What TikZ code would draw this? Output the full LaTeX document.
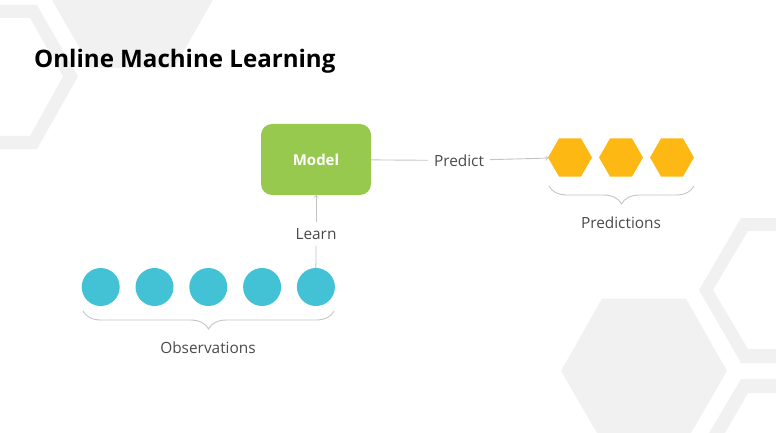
\documentclass[tikz,border=0pt]{standalone}
\usepackage{xcolor}
\usepackage{fontspec}
\setmainfont{Open Sans}
\usetikzlibrary{positioning}
\usetikzlibrary{shapes.geometric}
\usetikzlibrary{decorations.pathreplacing}

\definecolor{backgray}{HTML}{F1F1F1}
\definecolor{modelgreen}{HTML}{97C94E}
\definecolor{obsblue}{HTML}{43C2D5}
\definecolor{predyellow}{HTML}{FDB813}
\definecolor{edgegray}{HTML}{C4C4C4}
\definecolor{labelgray}{HTML}{4A4A4A}

\tikzset{
  back/.style={fill=backgray, draw=none},
  model/.style={fill=modelgreen, rounded corners=11pt, minimum width=110pt, minimum height=71pt, inner sep=0pt, outer sep=0pt, text=white, font=\fontsize{15}{18}\selectfont\bfseries},
  obs/.style={circle, fill=obsblue, minimum size=38pt, inner sep=0pt, outer sep=0pt},
  pred/.style={regular polygon, regular polygon sides=6, fill=predyellow, minimum size=44pt, inner sep=0pt, outer sep=0pt},
  lab/.style={text=labelgray, font=\fontsize{15.4}{18}\selectfont, inner sep=6pt, outer sep=0pt},
  edge/.style={draw=edgegray, line width=0.9pt},
  bracket/.style={draw=edgegray, line width=0.9pt, decorate, decoration={brace, amplitude=18pt}}
}

\begin{document}
\begin{tikzpicture}[x=1pt, y=-1pt]

\useasboundingbox (0,0) rectangle (776,433);

% background %
\fill[back] (0,5) -- (37,5) -- (78,76.5) -- (37,149) -- (0,149) -- (0,136) -- (30,136) -- (63,76.5) -- (30,18) -- (0,18) -- cycle;
\fill[back] (52,0) -- (213,0) -- (174,68) -- (91,68) -- cycle;
\fill[back] (602,298.5) -- (686,298.5) -- (727,371) -- (691,433) -- (597,433) -- (561,371) -- cycle;
\fill[back] (776,218) -- (741,218) -- (699,290) -- (741,363) -- (776,363) -- (776,349) -- (748,349) -- (713,290) -- (748,231) -- (776,231) -- cycle;
\fill[back] (776,379) -- (741,379) -- (709,433) -- (725,433) -- (748,393) -- (776,393) -- cycle;

% nodes %
\node[anchor=west, font=\fontsize{24.1}{30}\selectfont\bfseries, inner sep=0pt] (title) at (34,61.5) {Online Machine Learning};
\node[model] (mod) at (316,159.5) {Model};
\node[lab, right = 57pt of mod, yshift=-1pt] (predict) {Predict};

\node[pred] (pred1) at (570,157.5) {};
\node[pred] (pred2) at (621,157.5) {};
\node[pred] (pred3) at (672,157.5) {};
\node[lab] (predictions) at (621,223) {Predictions};

\node[obs] (obs1) at (100.7,287) {};
\node[obs, right = 15.8pt of obs1] (obs2) {};
\node[obs, right = 15.8pt of obs2] (obs3) {};
\node[obs, right = 15.8pt of obs3] (obs4) {};
\node[obs, right = 15.8pt of obs4] (obs5) {};
\node[lab] (learn) at (316,234) {Learn};
\node[lab] (observations) at (208,348) {Observations};

\coordinate (obsl) at (83,311);
\coordinate (obsr) at (334,311);
\coordinate (predl) at (549,186);
\coordinate (predr) at (694,186);

% edges %
\draw[edge] (mod) -- (predict);
\draw[edge, ->] (predict) -- (pred1);
\draw[edge] (obs5) -- (learn);
\draw[edge, ->] (learn) -- (mod);

% braces %
\draw[bracket] (obsr) -- (obsl);
\draw[bracket] (predr) -- (predl);

\end{tikzpicture}
\end{document}
